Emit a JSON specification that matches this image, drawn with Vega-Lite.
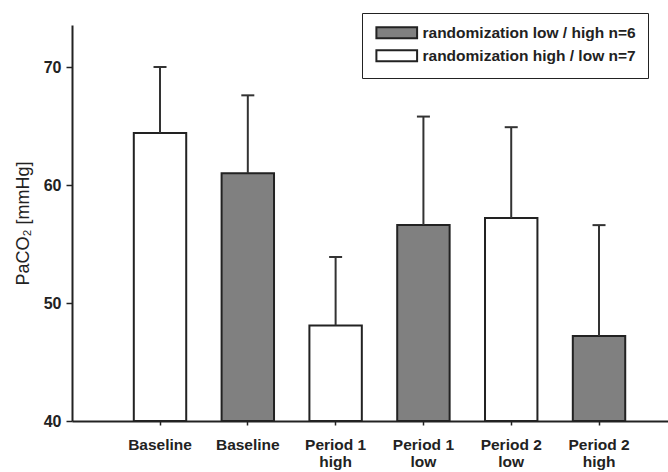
{
  "$schema": "https://vega.github.io/schema/vega-lite/v6.json",
  "autosize": "none",
  "padding": {"left": 72, "top": 25, "right": 0, "bottom": 51},
  "width": 596,
  "height": 396,
  "background": "white",
  "config": {
    "view": {"stroke": null},
    "font": "Liberation Sans",
    "axis": {"grid": false, "domainColor": "#222", "tickColor": "#222", "labelColor": "#222", "titleColor": "#222"}
  },
  "data": {
    "values": [
      {"id": "b1", "group": "randomization high / low n=7", "mean": 64.4, "upper": 70.0},
      {"id": "b2", "group": "randomization low / high n=6", "mean": 61.0, "upper": 67.6},
      {"id": "p1h", "group": "randomization high / low n=7", "mean": 48.1, "upper": 53.9},
      {"id": "p1l", "group": "randomization low / high n=6", "mean": 56.6, "upper": 65.8},
      {"id": "p2l", "group": "randomization high / low n=7", "mean": 57.2, "upper": 64.9},
      {"id": "p2h", "group": "randomization low / high n=6", "mean": 47.2, "upper": 56.6}
    ]
  },
  "encoding": {
    "x": {
      "field": "id",
      "type": "nominal",
      "sort": null,
      "scale": {"paddingInner": 0.403, "paddingOuter": 0.5955, "align": 0.591},
      "axis": {
        "title": null,
        "labelAngle": 0,
        "domainWidth": 2,
        "tickWidth": 1.5,
        "tickSize": 4,
        "labelPadding": 12,
        "labelBaseline": "top",
        "labelFontSize": 15.5,
        "labelFontWeight": "bold",
        "labelLineHeight": 17,
        "labelExpr": "datum.value == 'b1' || datum.value == 'b2' ? 'Baseline' : datum.value == 'p1h' ? ['Period 1', 'high'] : datum.value == 'p1l' ? ['Period 1', 'low'] : datum.value == 'p2l' ? ['Period 2', 'low'] : ['Period 2', 'high']"
      }
    }
  },
  "layer": [
    {
      "mark": {"type": "bar", "stroke": "#222", "strokeWidth": 2},
      "encoding": {
        "y": {
          "field": "mean",
          "type": "quantitative",
          "scale": {"domain": [40, 73.56], "nice": false, "zero": false},
          "axis": {
            "values": [40, 50, 60, 70],
            "title": "PaCO₂ [mmHg]",
            "titleFontSize": 18,
            "titleFontWeight": "normal",
            "titleX": -49,
            "titleY": 198,
            "titleAlign": "center",
            "titleBaseline": "middle",
            "domainWidth": 2,
            "tickWidth": 1.5,
            "tickSize": 6,
            "labelPadding": 5,
            "labelFontSize": 16,
            "labelFontWeight": "bold"
          }
        },
        "y2": {"datum": 40},
        "fill": {
          "field": "group",
          "type": "nominal",
          "scale": {
            "domain": ["randomization low / high n=6", "randomization high / low n=7"],
            "range": ["#808080", "#ffffff"]
          },
          "legend": {
            "title": null,
            "orient": "none",
            "legendX": 290,
            "legendY": -12,
            "padding": 12,
            "strokeColor": "#222",
            "symbolType": "M-3.7,-1H3.7V1H-3.7Z",
            "symbolSize": 121,
            "symbolOffset": 15,
            "symbolStrokeColor": "#222",
            "symbolStrokeWidth": 2,
            "symbolOpacity": 1,
            "labelFontSize": 15.5,
            "labelFontWeight": "bold",
            "labelColor": "#222",
            "labelOffset": 18,
            "labelLimit": 400,
            "rowPadding": 3
          }
        }
      }
    },
    {
      "mark": {"type": "rule", "stroke": "#333", "strokeWidth": 2},
      "encoding": {
        "y": {"field": "mean", "type": "quantitative"},
        "y2": {"field": "upper"}
      }
    },
    {
      "mark": {"type": "tick", "color": "#333", "size": 13, "thickness": 2, "opacity": 1},
      "encoding": {
        "y": {"field": "upper", "type": "quantitative"}
      }
    }
  ]
}
